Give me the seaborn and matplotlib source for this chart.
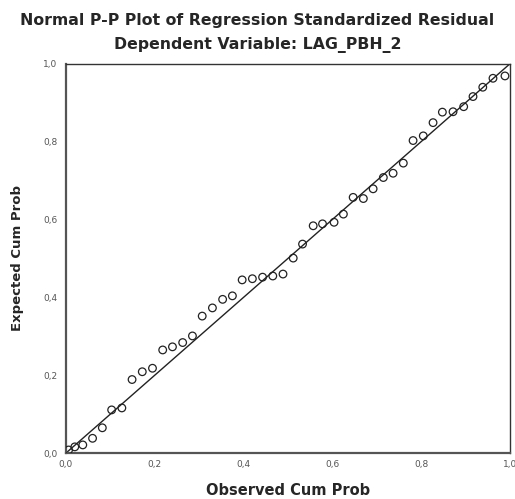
import matplotlib
matplotlib.use('Agg')
import matplotlib.pyplot as plt
import seaborn as sns
import pandas as pd
from matplotlib.ticker import FuncFormatter

# Observed vs expected cumulative probabilities
observed = [0.006, 0.020, 0.038, 0.060, 0.082, 0.103, 0.126, 0.149, 0.172, 0.195,
            0.218, 0.240, 0.263, 0.285, 0.307, 0.330, 0.353, 0.375, 0.397, 0.420,
            0.443, 0.466, 0.489, 0.512, 0.533, 0.557, 0.578, 0.604, 0.625, 0.647,
            0.670, 0.692, 0.715, 0.737, 0.760, 0.782, 0.805, 0.827, 0.848, 0.872,
            0.896, 0.917, 0.939, 0.962, 0.989]
expected = [0.008, 0.016, 0.021, 0.038, 0.065, 0.111, 0.116, 0.189, 0.209, 0.218,
            0.265, 0.273, 0.284, 0.301, 0.352, 0.373, 0.395, 0.404, 0.445, 0.448,
            0.452, 0.455, 0.460, 0.501, 0.537, 0.584, 0.589, 0.593, 0.614, 0.657,
            0.654, 0.679, 0.708, 0.719, 0.745, 0.803, 0.815, 0.849, 0.876, 0.877,
            0.890, 0.916, 0.940, 0.963, 0.969]
ref_line = [0.0, 1.0]
ticks = [0.0, 0.2, 0.4, 0.6, 0.8, 1.0]

title = 'Normal P-P Plot of Regression Standardized Residual'
subtitle = 'Dependent Variable: LAG_PBH_2'

df = pd.DataFrame({'Observed': observed, 'Expected': expected})

sns.set_style('white')
plt.rcParams['font.family'] = ['DejaVu Sans']

fig = plt.figure(figsize=(5.15, 4.99), dpi=100)
ax = fig.add_axes([0.128, 0.092, 0.862, 0.780])

# diagonal reference line
sns.lineplot(x=ref_line, y=ref_line, ax=ax, color='#222222', linewidth=1.0)
sns.scatterplot(data=df, x='Observed', y='Expected', ax=ax, marker='o', s=30,
                facecolor='none', edgecolor='#222222', linewidth=0.9, zorder=3)

ax.set_xlim(0, 1)
ax.set_ylim(0, 1)
ax.set_xticks(ticks)
ax.set_yticks(ticks)
comma = FuncFormatter(lambda v, p: f'{v:.1f}'.replace('.', ','))
ax.xaxis.set_major_formatter(comma)
ax.yaxis.set_major_formatter(comma)
ax.tick_params(axis='both', labelsize=6.5, colors='#555555', length=4, width=0.8,
               direction='out', pad=2)
ax.tick_params(axis='x', direction='inout', length=6)

for side in ['left', 'bottom']:
    ax.spines[side].set_color('#555555')
    ax.spines[side].set_linewidth(1.6)
for side in ['top', 'right']:
    ax.spines[side].set_color('#333333')
    ax.spines[side].set_linewidth(1.0)

ax.set_xlabel('Observed Cum Prob', fontsize=10.5, fontweight='bold', labelpad=10)
ax.set_ylabel('Expected Cum Prob', fontsize=9.5, fontweight='bold', labelpad=14)

fig.text(0.5, 0.958, title, ha='center', va='center', fontsize=11.3, fontweight='bold')
fig.text(0.5, 0.910, subtitle, ha='center', va='center', fontsize=11.3, fontweight='bold')

fig.savefig('out.png', dpi=100)
